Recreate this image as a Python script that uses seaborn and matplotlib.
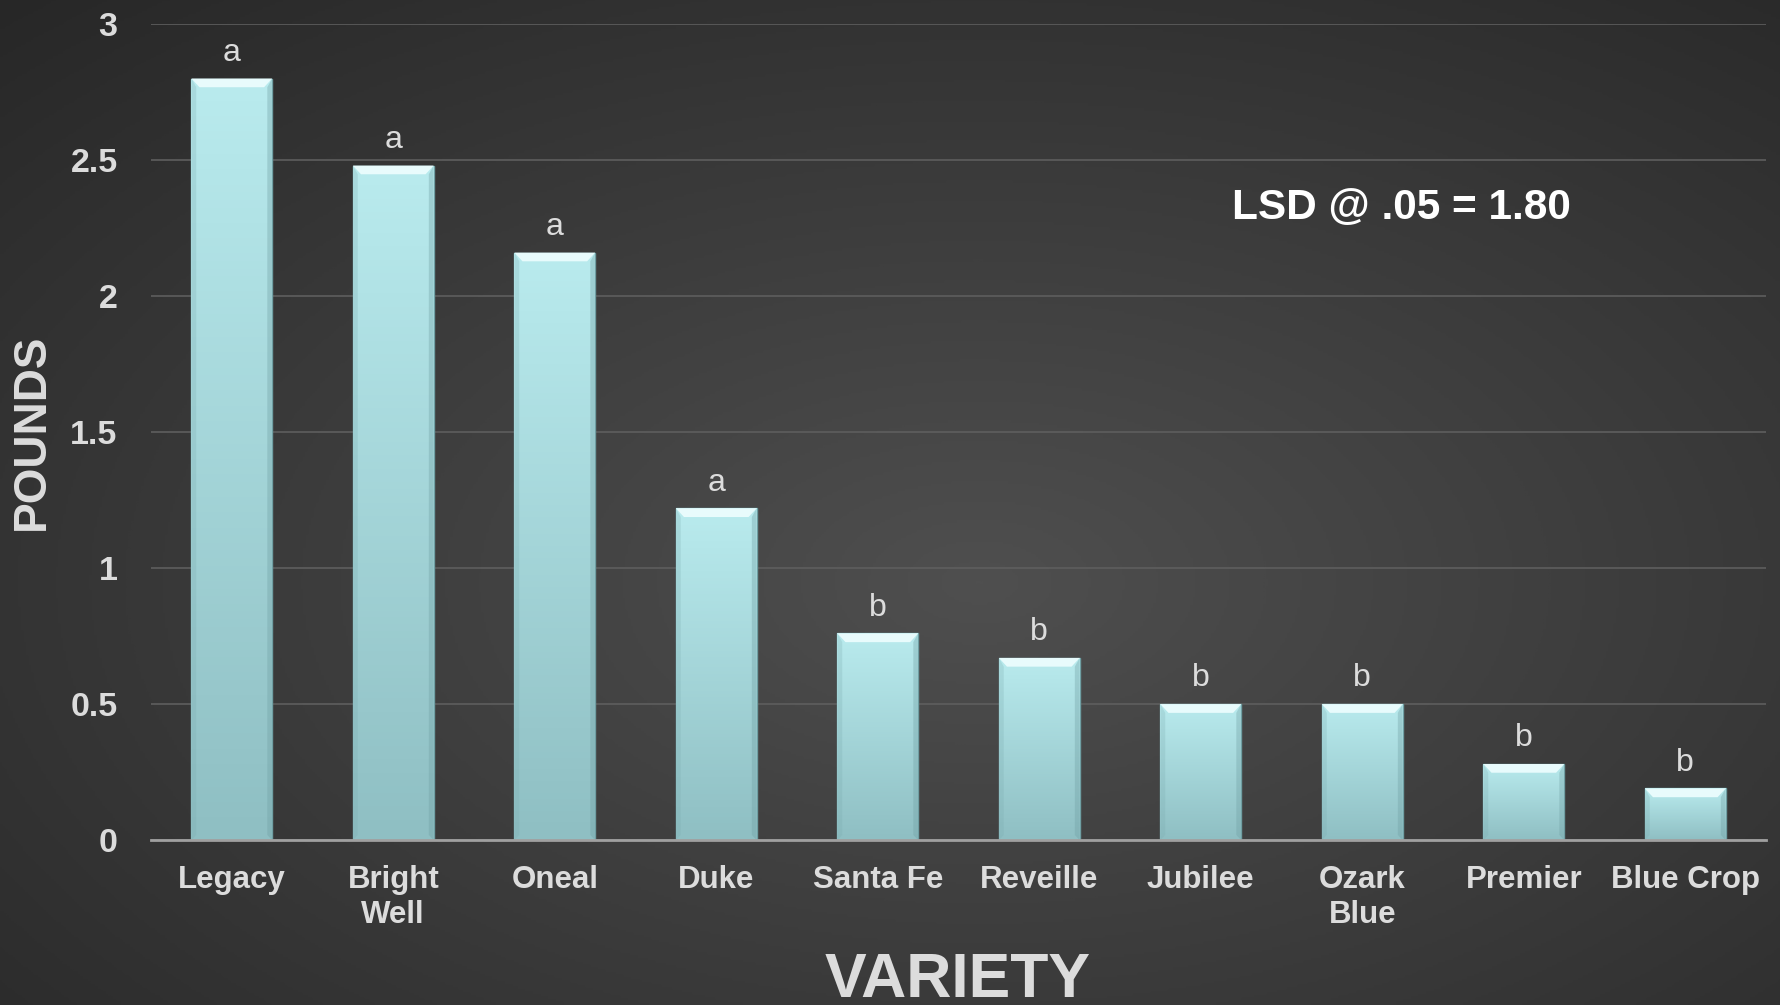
import numpy as np
import pandas as pd
import matplotlib.pyplot as plt
import seaborn as sns
from matplotlib.colors import LinearSegmentedColormap
from matplotlib.patches import Polygon

# data
varieties = ['Legacy', 'Bright\nWell', 'Oneal', 'Duke', 'Santa Fe', 'Reveille',
             'Jubilee', 'Ozark\nBlue', 'Premier', 'Blue Crop']
pounds = [2.80, 2.48, 2.16, 1.22, 0.76, 0.67, 0.50, 0.50, 0.28, 0.19]
groups = ['a', 'a', 'a', 'a', 'b', 'b', 'b', 'b', 'b', 'b']
yticks = [0, 0.5, 1, 1.5, 2, 2.5, 3]
ytick_labels = ['0', '0.5', '1', '1.5', '2', '2.5', '3']

df = pd.DataFrame({'Variety': varieties, 'Pounds': pounds, 'Group': groups})

sns.set_style('white')
plt.rcParams['font.family'] = ['Liberation Sans', 'DejaVu Sans']

fig = plt.figure(figsize=(17.81, 10.05), dpi=100)

# dark radial background
bg = fig.add_axes([0, 0, 1, 1], zorder=0)
yy, xx = np.mgrid[0:1:400j, 0:1:700j]
r = np.sqrt(((xx - 0.55) / 0.8) ** 2 + ((yy - 0.42) / 0.8) ** 2)
shade = np.clip(1 - r, 0, 1)
bg_cmap = LinearSegmentedColormap.from_list('bg', ['#272727', '#4f4f4f'])
bg.imshow(shade, cmap=bg_cmap, extent=[0, 1, 0, 1], aspect='auto',
          vmin=0, vmax=1, origin='lower')
bg.axis('off')

ax = fig.add_axes([0.0848, 0.164, 0.9068, 0.812], zorder=1)
ax.patch.set_alpha(0)

sns.barplot(data=df, x='Variety', y='Pounds', color='#a8d8dc', width=0.5,
            saturation=1, ax=ax)

# gradient + bevel on each bar
bar_cmap = LinearSegmentedColormap.from_list('bar', ['#8fbfc3', '#b9ebee'])
grad = np.linspace(0, 1, 100).reshape(-1, 1)
for p in ax.patches:
    x, w, h = p.get_x(), p.get_width(), p.get_height()
    im = ax.imshow(grad, cmap=bar_cmap, extent=[x, x + w, 0, h],
                   aspect='auto', origin='lower', zorder=2)
    im.set_clip_path(p)
    p.set_edgecolor('#6f9fa3')
    p.set_linewidth(1)
    p.set_zorder(2)
    dx, dy = 0.05, 0.032
    ax.add_patch(Polygon([(x, h), (x + w, h), (x + w - dx, h - dy), (x + dx, h - dy)],
                         closed=True, color='#e8fbfc', lw=0, zorder=3))
    ax.add_patch(Polygon([(x + w, h), (x + w, 0), (x + w - dx * 0.6, dy * 0.6),
                          (x + w - dx * 0.6, h - dy)],
                         closed=True, color='#6f9ea2', alpha=0.35, lw=0, zorder=3))
    ax.add_patch(Polygon([(x, h), (x, 0), (x + dx * 0.6, dy * 0.6), (x + dx * 0.6, h - dy)],
                         closed=True, color='#7aaaae', alpha=0.25, lw=0, zorder=3))

# significance letters
for i, (val, grp) in enumerate(zip(pounds, groups)):
    ax.text(i, val + 0.065, grp, ha='center', va='baseline', fontsize=23,
            color='#dcdcdc')

ax.set_xlim(-0.5, 9.5)
ax.set_ylim(0, 3)
ax.set_yticks(yticks)
ax.set_yticklabels(ytick_labels)
ax.yaxis.grid(True, color='#5e5e5e', lw=1.2)
ax.set_axisbelow(True)
sns.despine(ax=ax, left=True)
ax.spines['bottom'].set_color('#a0a0a0')
ax.spines['bottom'].set_linewidth(2)
ax.spines['bottom'].set_zorder(4)
ax.tick_params(axis='y', length=0, pad=24, labelsize=24.5, labelcolor='#dcdcdc')
ax.tick_params(axis='x', length=0, pad=18, labelsize=22.5, labelcolor='#dcdcdc')
for lab in ax.get_xticklabels() + ax.get_yticklabels():
    lab.set_fontweight('bold')
for lab in ax.get_xticklabels():
    lab.set_linespacing(1.22)
ax.set_xlabel('')
ax.set_ylabel('')

fig.text(32 / 1781, 1 - 432 / 1005, 'POUNDS', rotation=90, ha='center', va='center',
         fontsize=33, fontweight='bold', color='#dcdcdc')
fig.text(958 / 1781, 1 - 997 / 1005, 'VARIETY', ha='center', va='baseline',
         fontsize=45, fontweight='bold', color='#dcdcdc')
fig.text(1232 / 1781, 1 - 208 / 1005, 'LSD @ .05 = 1.80', ha='left', va='center',
         fontsize=30.5, fontweight='bold', color='white')

fig.savefig('out.png', dpi=100)
